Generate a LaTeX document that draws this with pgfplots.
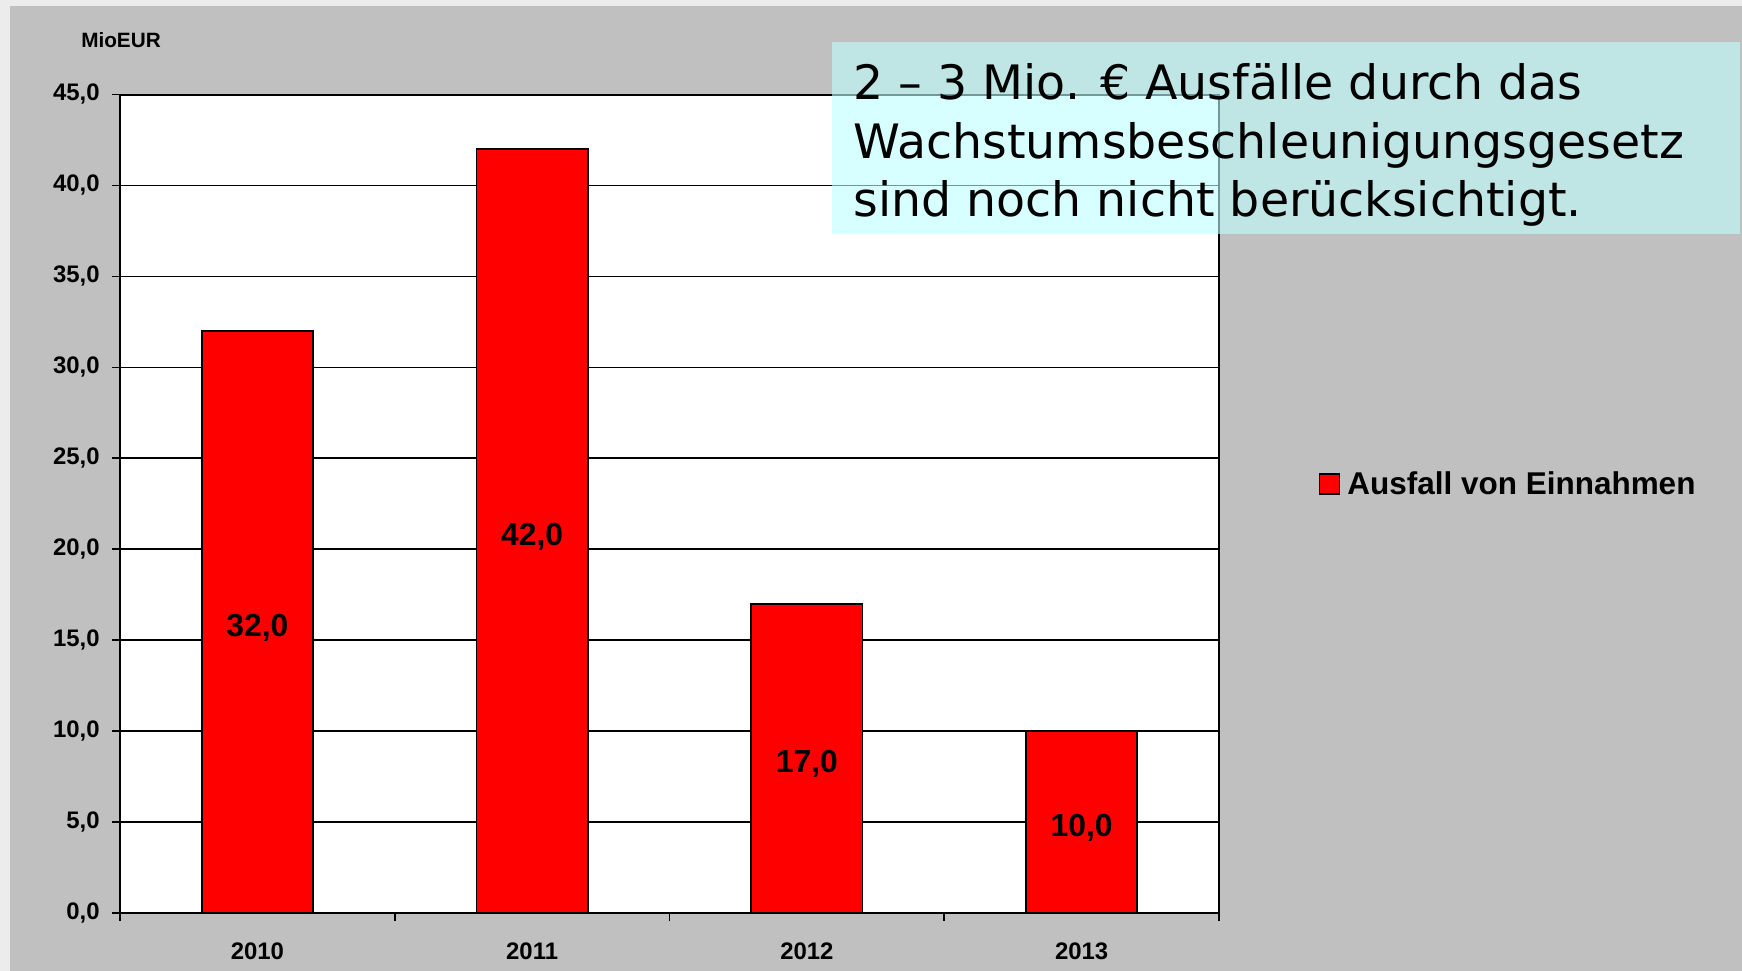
\documentclass[border=0pt]{standalone}
\usepackage{fontspec}
\setmainfont{Liberation Sans}
\newfontfamily\verd{DejaVu Sans}
\usepackage{pgfplots}
\pgfplotsset{compat=1.18}
\definecolor{bggray}{HTML}{C0C0C0}
\definecolor{boxcyan}{rgb}{0.75,1,1}
\begin{document}
\begin{tikzpicture}
\path[use as bounding box] (0,0) rectangle (871bp,485.5bp);
\fill[bggray] (0,0) rectangle (871bp,485.5bp);
\fill[gray!15] (0,0) rectangle (5bp,485.5bp);
\fill[gray!15] (0,482.5bp) rectangle (871bp,485.5bp);
\begin{axis}[
  at={(60bp,29bp)}, anchor=south west,
  scale only axis, width=549.5bp, height=409.25bp,
  xmin=-0.5, xmax=3.5, ymin=0, ymax=45,
  axis background/.style={fill=white},
  axis line style={black, line width=1bp},
  ytick={0,5,10,15,20,25,30,35,40,45},
  ymajorgrids, grid style={black, line width=0.8bp},
  xtick={0,1,2,3}, xticklabels={2010,2011,2012,2013},
  minor xtick={-0.5,0.5,1.5,2.5,3.5},
  tick align=outside, xtick pos=bottom, ytick pos=left,
  major x tick style={draw=none},
  minor tick length=4bp, major tick length=4bp,
  tick style={black, line width=0.8bp},
  ticklabel style={font=\bfseries\fontsize{12}{14}\selectfont},
  xticklabel style={yshift=-7.2bp},
  /pgf/number format/assume math mode=true,
  yticklabel style={xshift=-2.7bp, /pgf/number format/.cd, fixed, fixed zerofill, precision=1, use comma},
  legend style={at={(1.085,0.524)}, anchor=west, draw=none, fill=none,
    font=\bfseries\fontsize{15.8}{18}\selectfont},
  legend cell align=left,
  legend image code/.code={\draw[fill=red, draw=black, line width=0.8bp] (0bp,-5bp) rectangle (10bp,5bp);},
]
\addplot[ybar, bar width=55.6bp, fill=red, draw=black, line width=0.8bp]
  coordinates {(0,32) (1,42) (2,17) (3,10)};
\addlegendentry{\hspace{1.5bp}Ausfall von Einnahmen}
\addplot[draw=none, mark=none, forget plot, nodes near coords, nodes near coords align={center},
  point meta=explicit symbolic,
  every node near coord/.append style={font=\bfseries\fontsize{16}{19}\selectfont, text=black, yshift=-2.8bp}]
  table[meta=lab] {
x y lab
0 16 32,0
1 21 42,0
2 8.5 17,0
3 5 10,0
};
\end{axis}
\node[font=\bfseries\fontsize{10.4}{12}\selectfont] at (60.5bp,465.5bp) {MioEUR};
\fill[boxcyan, fill opacity=0.6] (416bp,368.5bp) rectangle (870bp,464.5bp);
\node[anchor=base west, font=\verd\fontsize{23.8}{28}\selectfont, inner sep=0] at (426.5bp,435.5bp) {2 – 3 Mio. € Ausfälle durch das};
\node[anchor=base west, font=\verd\fontsize{23.8}{28}\selectfont, inner sep=0] at (426.5bp,406bp) {Wachstumsbeschleunigungsgesetz};
\node[anchor=base west, font=\verd\fontsize{23.8}{28}\selectfont, inner sep=0] at (426.5bp,377bp) {sind noch nicht berücksichtigt.};
\end{tikzpicture}
\end{document}
